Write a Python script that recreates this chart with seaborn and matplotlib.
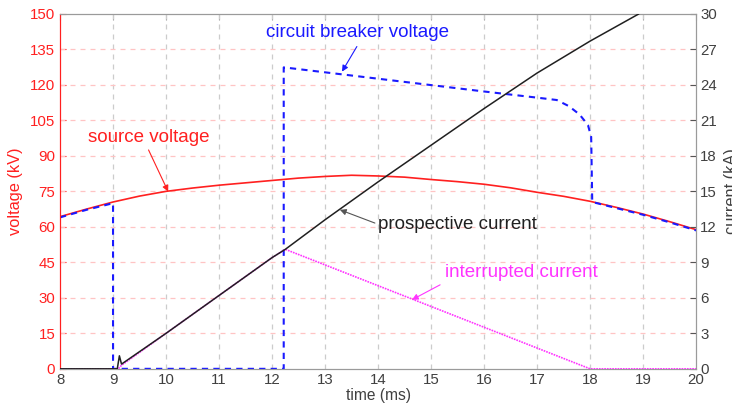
import numpy as np
import pandas as pd
import matplotlib
matplotlib.use("Agg")
import matplotlib.pyplot as plt
import seaborn as sns

sns.set_style("white")
plt.rcParams["font.family"] = ["Liberation Sans", "DejaVu Sans"]

# ---------------------------------------------------------------------------
# data (time in ms, voltage in kV, current in kA)
# ---------------------------------------------------------------------------
t_src = [8.0, 8.5, 9.0, 9.5, 10.0, 10.5, 11.0, 11.5, 12.0, 12.5, 13.0, 13.5,
         14.0, 14.5, 15.0, 15.5, 16.0, 16.5, 17.0, 17.5, 18.0, 18.5, 19.0, 19.5, 20.0]
v_src = [64.3, 67.5, 70.5, 73.0, 75.0, 76.4, 77.6, 78.6, 79.6, 80.6, 81.3, 81.8,
         81.5, 81.0, 80.0, 79.1, 78.0, 76.5, 74.6, 72.9, 70.8, 68.2, 65.4, 62.2, 58.8]

t_cb = [8.0, 8.5, 9.0, 9.0, 12.22, 12.22, 13.0, 14.0, 15.0, 16.0, 17.0, 17.37,
        17.6, 17.8, 17.96, 18.02, 18.04, 18.5, 19.0, 19.5, 20.0]
v_cb = [64.0, 67.2, 70.0, 0.0, 0.0, 127.4, 125.3, 122.6, 119.9, 117.2, 114.6, 113.6,
        111.0, 107.5, 103.0, 98.0, 70.5, 67.9, 65.1, 61.9, 58.5]

t_pro = [8.0, 9.08, 9.12, 9.16, 10.0, 11.0, 12.0, 12.25, 13.0, 14.0, 15.0,
         16.0, 17.0, 18.0, 18.92]
i_pro = [0.0, 0.0, 1.1, 0.4, 3.0, 6.2, 9.4, 10.1, 12.6, 15.8, 18.9,
         22.0, 25.0, 27.7, 30.0]

t_int = [8.0, 9.1, 9.16, 10.0, 11.0, 12.0, 12.25, 18.0, 20.0]
i_int = [0.0, 0.0, 0.3, 3.0, 6.2, 9.4, 10.1, 0.0, 0.0]

RED = "#ff2020"
BLUE = "#1a1aff"
MAGENTA = "#ff33ff"
GRAY = "#9a9a9a"

fig, ax = plt.subplots(figsize=(7.32, 4.08), dpi=100)
fig.subplots_adjust(left=0.082, right=0.951, bottom=0.096, top=0.966)
ax2 = ax.twinx()

# voltages (left axis)
sns.lineplot(x=t_src, y=v_src, ax=ax, color=RED, lw=1.2,
             estimator=None, sort=False, zorder=3)
sns.lineplot(x=t_cb, y=v_cb, ax=ax, color=BLUE, lw=1.5, ls=(0, (3, 2.5)),
             estimator=None, sort=False, zorder=4)

# currents (right axis)
sns.lineplot(x=t_int, y=i_int, ax=ax2, color=MAGENTA, lw=1.2, ls=(0, (1, 0.6)),
             estimator=None, sort=False, zorder=3)
sns.lineplot(x=t_pro, y=i_pro, ax=ax2, color="#202020", lw=1.1,
             estimator=None, sort=False, zorder=4)

ax.set_xlim(8, 20)
ax.set_ylim(0, 150)
ax2.set_ylim(0, 30)
ax.set_xticks(np.arange(8, 21, 1))
ax.set_yticks(np.arange(0, 151, 15))
ax2.set_yticks(np.arange(0, 31, 3))

# matlab-ish grid: grey vertical, pink horizontal
for x in range(9, 20):
    ax.axvline(x, color="#cccccc", lw=0.9, ls=(0, (4, 4)), zorder=1)
for y in range(15, 150, 15):
    ax.axhline(y, color="#ffc4c4", lw=0.9, ls=(0, (4, 4)), zorder=1)

for side in ["top", "bottom", "right"]:
    ax.spines[side].set_color(GRAY)
    ax2.spines[side].set_color(GRAY)
ax.spines["left"].set_color(RED)
ax2.spines["left"].set_color(RED)

ax.tick_params(axis="x", direction="in", length=4, colors=GRAY, labelcolor="#404040",
               labelsize=10.8, top=True, pad=3)
ax.tick_params(axis="y", direction="in", length=4, colors=RED, labelcolor=RED,
               labelsize=10.8)
ax2.tick_params(axis="y", direction="in", length=4, colors="#555555",
                labelcolor="#404040", labelsize=10.8, pad=3)

ax.set_xlabel("time (ms)", fontsize=11.2, color="#404040", labelpad=1)
ax.set_ylabel("voltage (kV)", fontsize=11.8, color=RED, labelpad=5)
ax2.set_ylabel("current (kA)", fontsize=11.8, color="#404040", labelpad=5)

# annotations
arrow = dict(arrowstyle="-|>", lw=0.8, mutation_scale=9, shrinkA=0, shrinkB=0)
ax.annotate("", xy=(10.04, 74.9), xytext=(9.67, 92.5),
            arrowprops=dict(arrow, color=RED))
ax.text(9.68, 97.6, "source voltage", color=RED, fontsize=13.5, ha="center", va="center")

ax.annotate("", xy=(13.32, 125.6), xytext=(13.6, 136.2),
            arrowprops=dict(arrow, color=BLUE))
ax.text(13.62, 142.0, "circuit breaker voltage", color=BLUE, fontsize=13.5,
        ha="center", va="center")

ax.annotate("", xy=(13.28, 67.2), xytext=(13.94, 61.6),
            arrowprops=dict(arrow, color="#555555"))
ax.text(14.0, 60.8, "prospective current", color="#202020", fontsize=13.5,
        ha="left", va="center")

ax.annotate("", xy=(14.64, 29.2), xytext=(15.17, 35.5),
            arrowprops=dict(arrow, color=MAGENTA))
ax.text(15.26, 40.6, "interrupted current", color=MAGENTA, fontsize=13.5,
        ha="left", va="center")

fig.savefig("out.png", dpi=100)
